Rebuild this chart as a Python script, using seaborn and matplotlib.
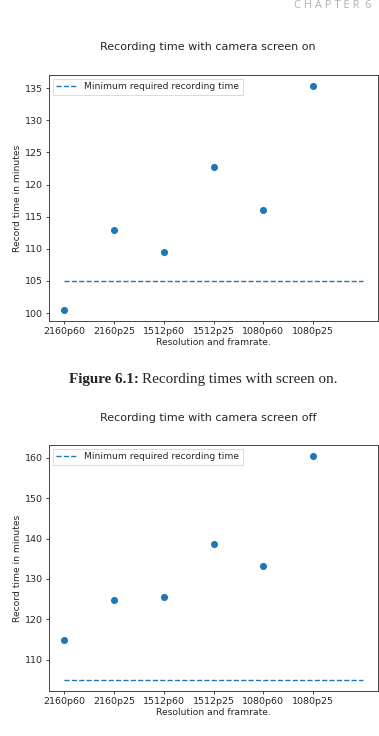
import matplotlib
matplotlib.use("Agg")
import matplotlib.pyplot as plt
import seaborn as sns
import pandas as pd

settings = ["2160p60", "2160p25", "1512p60", "1512p25", "1080p60", "1080p25"]
screen_on = [100.5, 112.9, 109.5, 122.8, 116.0, 135.3]
screen_off = [114.8, 124.7, 125.5, 138.6, 133.2, 160.4]
min_required = 105

sns.set_style("ticks")
plt.rcParams["font.family"] = ["DejaVu Sans"]
plt.rcParams["font.size"] = 6.6

W, H = 379, 736
fig = plt.figure(figsize=(W / 100, H / 100), dpi=100)


def px_axes(left, top, right, bottom):
    return fig.add_axes([left / W, 1 - bottom / H, (right - left) / W, (bottom - top) / H])


def draw_panel(ax, values, title, title_y):
    df = pd.DataFrame({"Setting": settings, "Minutes": values})
    sns.scatterplot(data=df, x="Setting", y="Minutes", ax=ax, color="#1f77b4",
                    s=26, linewidth=0, zorder=3)
    ax.hlines(min_required, 0, len(settings), colors="#1f77b4", linestyles="dashed",
              linewidth=1.0, label="Minimum required recording time")
    ax.margins(x=0.05, y=0.05)
    ax.set_xlabel("Resolution and framrate.", fontsize=6.6, labelpad=1)
    ax.set_ylabel("Record time in minutes", fontsize=6.6, labelpad=2)
    ax.tick_params(labelsize=6.8, length=2.5, width=0.6, pad=2)
    for s in ax.spines.values():
        s.set_linewidth(0.7)
        s.set_color("#444444")
    leg = ax.legend(loc="upper left", fontsize=6.6, frameon=True, fancybox=False,
                    borderpad=0.4, handlelength=2.2, borderaxespad=0.4)
    leg.get_frame().set_edgecolor("#cccccc")
    leg.get_frame().set_linewidth(0.6)
    fig.text(208 / W, 1 - title_y / H, title, ha="center", va="center", fontsize=8)


ax1 = px_axes(49, 75, 378, 321)
draw_panel(ax1, screen_on, "Recording time with camera screen on", 47)
ax1.set_yticks([100, 105, 110, 115, 120, 125, 130, 135])

ax2 = px_axes(49, 445, 378, 691)
draw_panel(ax2, screen_off, "Recording time with camera screen off", 418)
ax2.set_yticks([110, 120, 130, 140, 150, 160])

# page header
fig.text(372 / W, 1 - 5 / H, "C H A P T E R  6", ha="right", va="center",
         fontsize=8, color="#b0b0b0", family="Open Sans")

# caption with bold lead, sized to span x = 69..338 px
cap_y = 1 - 379 / H
renderer = fig.canvas.get_renderer()
size = 10.0
for _ in range(4):
    t1 = fig.text(69 / W, cap_y, "Figure 6.1:", ha="left", va="center", fontsize=size,
                  fontweight="bold", family="Liberation Serif")
    bb = t1.get_window_extent(renderer)
    t2 = fig.text(bb.x1 / W + 3.5 / W, cap_y, "Recording times with screen on.",
                  ha="left", va="center", fontsize=size, family="Liberation Serif")
    bb2 = t2.get_window_extent(renderer)
    span = bb2.x1 - bb.x0
    t1.remove()
    t2.remove()
    size *= 269 / span
t1 = fig.text(69 / W, cap_y, "Figure 6.1:", ha="left", va="center", fontsize=size,
              fontweight="bold", family="Liberation Serif")
bb = t1.get_window_extent(renderer)
fig.text(bb.x1 / W + 3.5 / W, cap_y, "Recording times with screen on.", ha="left",
         va="center", fontsize=size, family="Liberation Serif")

fig.savefig("out.png", dpi=100)
